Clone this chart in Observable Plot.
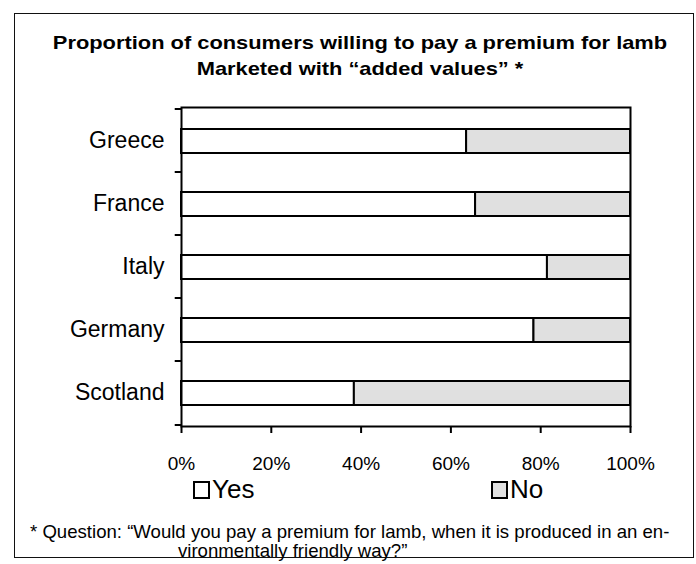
<!DOCTYPE html>
<html>
<head>
<meta charset="utf-8">
<script src="https://cdn.jsdelivr.net/npm/d3@7"></script>
<script src="https://cdn.jsdelivr.net/npm/@observablehq/plot@0.6"></script>
<style>
  html, body { margin: 0; padding: 0; background: #fff; }
  #wrap { position: relative; width: 696px; height: 564px; overflow: hidden;
          font-family: "Liberation Sans", Arial, sans-serif; color: #000; }
  #border { position: absolute; left: 14px; top: 13px; width: 680px; height: 545px;
            border: 1.5px solid #111; box-sizing: border-box; }
  #title { position: absolute; left: 0; top: 30px; width: 720px; text-align: center;
           font-weight: bold; font-size: 19px; line-height: 26px;
           transform: scaleX(1.15); transform-origin: 360px 0; }
  #chart { position: absolute; left: 0; top: 95px; }
  .leg { position: absolute; top: 474px; font-size: 26px; line-height: 30px; white-space: nowrap; }
  .sw { display: inline-block; width: 13px; height: 14px; border: 2px solid #000;
        vertical-align: -1px; margin-right: 2px; }
  #note { position: absolute; left: 30px; top: 522px; font-size: 18.6px; line-height: 19px; white-space: nowrap; }
</style>
</head>
<body>
<div id="wrap">
  <div id="border"></div>
  <div id="title"></div>
  <div id="chart"></div>
  <div id="legend"></div>
  <div id="note"></div>
</div>
<script>
const titleLines = ["Proportion of consumers willing to pay a premium for lamb",
                    "Marketed with \u201cadded values\u201d *"];
const countries = ["Greece", "France", "Italy", "Germany", "Scotland"];
const yesPct = [63.5, 65.5, 81.5, 78.5, 38.5];
const noPct  = [36.5, 34.5, 18.5, 21.5, 61.5];
const seriesNames = ["Yes", "No"];
const seriesFill = ["#ffffff", "#e0e0e0"];
const xTicks = [0, 20, 40, 60, 80, 100];
const noteLines = ["* Question: \u201cWould you pay a premium for lamb, when it is produced in an en-",
                   "vironmentally friendly way?\u201d"];

document.getElementById("title").innerHTML = titleLines.join("<br>");

const rows = [];
countries.forEach((c, i) => {
  rows.push({country: c, series: "Yes", value: yesPct[i]});
  rows.push({country: c, series: "No", value: noPct[i]});
});

const chart = Plot.plot({
  width: 696,
  height: 390,
  marginTop: 12,
  marginLeft: 181,
  marginRight: 66,
  marginBottom: 59,
  style: {fontFamily: "'Liberation Sans', Arial, sans-serif", color: "#000", background: "transparent"},
  x: {domain: [0, 100], ticks: xTicks},
  y: {domain: countries, padding: 0},
  color: {domain: seriesNames, range: seriesFill},
  marks: [
    Plot.barX(rows, Plot.stackX({
      y: "country", x: "value", fill: "series", order: seriesNames,
      stroke: "#000", strokeWidth: 2, insetTop: 20, insetBottom: 19
    })),
    Plot.frame({stroke: "#000", strokeWidth: 2}),
    Plot.ruleY(countries, {y: d => d, dy: -32, x1: -1.4, x2: 0, stroke: "#000", strokeWidth: 2}),
    Plot.ruleY(countries.slice(-1), {y: d => d, dy: 32, x1: -1.4, x2: 0, stroke: "#000", strokeWidth: 2}),
    Plot.axisX({ticks: xTicks, tickFormat: d => d + "%", tickSize: 7, tickPadding: 23,
                fontSize: 19, strokeWidth: 2, label: null}),
    Plot.axisY({tickSize: 0, tickPadding: 17, fontSize: 23, label: null})
  ]
});
document.getElementById("chart").appendChild(chart);

const legLeft = [193, 491];
const legend = document.getElementById("legend");
seriesNames.forEach((s, i) => {
  const d = document.createElement("div");
  d.className = "leg";
  d.style.left = legLeft[i] + "px";
  d.innerHTML = `<span class="sw" style="background:${seriesFill[i]}"></span>${s}`;
  legend.appendChild(d);
});

const note = document.getElementById("note");
note.innerHTML = `<div>${noteLines[0]}</div><div style="padding-left:148px">${noteLines[1]}</div>`;
</script>
</body>
</html>
